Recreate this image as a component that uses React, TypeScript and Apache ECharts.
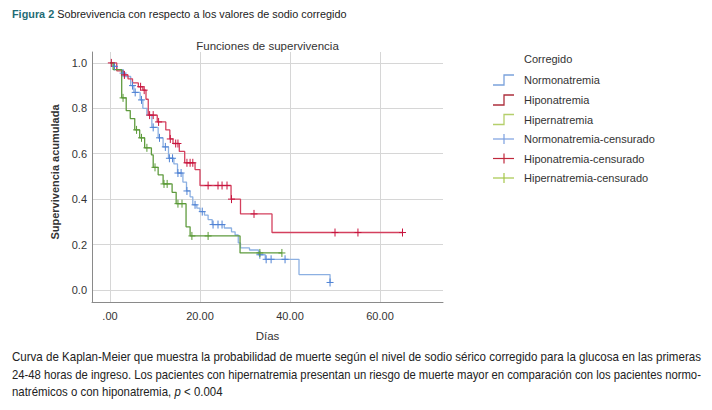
import { useEffect, useRef } from 'react';
import * as echarts from 'echarts';

// ---- data ----
const groups = ['Normonatremia', 'Hiponatremia', 'Hipernatremia'];
const censoredNames = ['Normonatremia-censurado', 'Hiponatremia-censurado', 'Hipernatremia-censurado'];
const legendTitle = 'Corregido';

const normoSteps: [number, number][] = [
  [0, 1], [0.7, 0.985], [1.5, 0.97], [2.7, 0.955], [3.3, 0.94], [4.6, 0.9], [5.3, 0.87], [6.7, 0.837],
  [7.3, 0.8], [8.2, 0.77], [9.3, 0.716], [10.7, 0.67], [11.8, 0.63], [13, 0.58], [14.2, 0.555],
  [15, 0.515], [16.2, 0.475], [17, 0.436], [17.8, 0.41], [18.4, 0.375], [19.3, 0.36], [20, 0.345],
  [21, 0.33], [21.8, 0.31], [22.7, 0.288], [25.4, 0.273], [27, 0.256], [27.8, 0.242], [28.5, 0.207],
  [29, 0.185], [31, 0.176], [33, 0.155], [34.5, 0.135], [42, 0.068], [48.9, 0.033],
];
const normoCensored: [number, number][] = [
  [1, 0.985], [2.9, 0.955], [5, 0.9], [5.6, 0.87], [7, 0.837], [9.6, 0.716], [11, 0.67], [12.3, 0.63],
  [13.2, 0.58], [13.9, 0.58], [15.1, 0.515], [15.8, 0.515], [17.1, 0.436], [18.9, 0.375], [20.5, 0.345],
  [22.9, 0.288], [24, 0.288], [24.9, 0.288], [33.3, 0.155], [34.7, 0.135], [35.8, 0.135], [38.9, 0.135],
  [48.9, 0.033],
];

const hipoSteps: [number, number][] = [
  [0, 1], [1.5, 0.965], [3, 0.947], [4, 0.93], [5, 0.912], [6.3, 0.895], [7.3, 0.88], [8, 0.84],
  [8.5, 0.77], [10.5, 0.74], [12.4, 0.705], [13.3, 0.665], [14, 0.645], [15.4, 0.61], [16.6, 0.56],
  [18.9, 0.53], [20, 0.46], [26.9, 0.4], [29, 0.335], [36, 0.253], [65, 0.253],
];
const hipoCensored: [number, number][] = [
  [0.3, 1], [3.2, 0.947], [6.8, 0.895], [7.6, 0.88], [8.8, 0.77], [9.6, 0.77], [10.8, 0.74],
  [13.4, 0.665], [14.6, 0.645], [15.1, 0.645], [17.1, 0.56], [17.8, 0.56], [18.4, 0.56],
  [21.8, 0.46], [24, 0.46], [24.9, 0.46], [26, 0.46], [27, 0.4], [32, 0.335], [50, 0.253],
  [55.1, 0.253], [65, 0.253],
];

const hiperSteps: [number, number][] = [
  [0, 1], [0.7, 0.97], [2.6, 0.846], [3.6, 0.79], [4.5, 0.755], [5.5, 0.705], [6.6, 0.67], [7.7, 0.626],
  [9.2, 0.595], [9.6, 0.54], [10.7, 0.507], [11.8, 0.467], [13.8, 0.43], [14.7, 0.38], [16.9, 0.278],
  [17.8, 0.238], [28.9, 0.163], [38.2, 0.163],
];
const hiperCensored: [number, number][] = [
  [2.9, 0.846], [5.9, 0.705], [7, 0.67], [8.2, 0.626], [10, 0.54], [12, 0.467], [12.7, 0.467],
  [15.1, 0.38], [16, 0.38], [18.2, 0.238], [21.8, 0.238], [33.3, 0.163], [38.2, 0.163],
];

const xTickValues = [0, 20, 40, 60];
const xTickLabels = ['.00', '20.00', '40.00', '60.00'];
const yTickValues = [0, 0.2, 0.4, 0.6, 0.8, 1.0];
const yTickLabels = ['0.0', '0.2', '0.4', '0.6', '0.8', '1.0'];

const headerBold = 'Figura 2';
const headerText = 'Sobrevivencia con respecto a los valores de sodio corregido';
const chartTitle = 'Funciones de supervivencia';
const xName = 'Días';
const yName = 'Supervivencia acumulada';
const captionLines = [
  'Curva de Kaplan-Meier que muestra la probabilidad de muerte según el nivel de sodio sérico corregido para la glucosa en las primeras',
  '24-48 horas de ingreso. Los pacientes con hipernatremia presentan un riesgo de muerte mayor en comparación con los pacientes normo-',
  'natrémicos o con hiponatremia, {i|p} < 0.004',
];

// ---- styles ----
const FONT = "'Liberation Sans', Arial, sans-serif";
const lineColors = ['#8cb0e2', '#d4405e', '#5f9b3e'];
const censorColors = ['#4f82d4', '#c8153e', '#5a9a36'];
const legendLineColors = ['#7ba2dc', '#ad2f3c', '#b5cf6b'];
const legendCensorColors = ['#7b9fe0', '#c0283c', '#a6c64a'];
const CAPTION_SIZE = 13;
const CAPTION_LEFT = 12;
const CAPTION_RIGHT = 702;

const lookup = (vals: number[], labels: string[]) => (v: number) => {
  const i = vals.findIndex((t) => Math.abs(t - v) < 1e-9);
  return i >= 0 ? labels[i] : '';
};

function measure(text: string, font: string): number {
  const c = document.createElement('canvas').getContext('2d');
  if (!c) return 0;
  c.font = font;
  return c.measureText(text).width;
}

export default function App() {
  const ref = useRef<HTMLDivElement>(null);
  useEffect(() => {
    if (!ref.current) return;
    const chart = echarts.init(ref.current, undefined, { renderer: 'svg' });
    const stepSets = [normoSteps, hipoSteps, hiperSteps];
    const censorSets = [normoCensored, hipoCensored, hiperCensored];

    const lineSeries = stepSets.map((d, i) => ({
      type: 'line',
      name: groups[i],
      data: d,
      step: 'end',
      symbol: 'none',
      lineStyle: { color: lineColors[i], width: 1.3 },
      z: 2 + i,
      silent: true,
    }));
    const censorSeries = censorSets.map((d, i) => ({
      type: 'custom',
      name: censoredNames[i],
      data: d,
      encode: { x: 0, y: 1 },
      z: 6 + i,
      silent: true,
      renderItem: (_p: any, api: any) => {
        const p = api.coord([api.value(0), api.value(1)]);
        const c = censorColors[i];
        return {
          type: 'group',
          children: [
            { type: 'line', shape: { x1: p[0] - 3.5, y1: p[1], x2: p[0] + 3.5, y2: p[1] }, style: { stroke: c, lineWidth: 1 } },
            { type: 'line', shape: { x1: p[0], y1: p[1] - 4, x2: p[0], y2: p[1] + 4 }, style: { stroke: c, lineWidth: 1 } },
          ],
        };
      },
    }));

    const legendX = 493;
    const legendYs = [80, 100, 119.5, 139, 158.5, 178];
    const legendGraphics: any[] = [
      { type: 'text', x: 524, y: 59, style: { text: legendTitle, font: `11px ${FONT}`, fill: '#333', textVerticalAlign: 'middle' } },
    ];
    groups.forEach((g, i) => {
      const y = legendYs[i];
      legendGraphics.push({
        type: 'polyline',
        shape: { points: [[legendX, y + 5], [legendX + 11, y + 5], [legendX + 11, y - 5], [legendX + 21, y - 5]] },
        style: { stroke: legendLineColors[i], lineWidth: 1.3, fill: 'none' },
      });
      legendGraphics.push({ type: 'text', x: 524, y, style: { text: g, font: `11px ${FONT}`, fill: '#333', textVerticalAlign: 'middle' } });
    });
    censoredNames.forEach((g, i) => {
      const y = legendYs[i + 3];
      legendGraphics.push({ type: 'line', shape: { x1: legendX, y1: y, x2: legendX + 21, y2: y }, style: { stroke: legendCensorColors[i], lineWidth: 1.2 } });
      legendGraphics.push({ type: 'line', shape: { x1: legendX + 11, y1: y - 5, x2: legendX + 11, y2: y + 5 }, style: { stroke: legendCensorColors[i], lineWidth: 1.2 } });
      legendGraphics.push({ type: 'text', x: 524, y, style: { text: g, font: `11px ${FONT}`, fill: '#333', textVerticalAlign: 'middle' } });
    });

    // condense the caption horizontally (narrow face look) so the full lines span the column
    const capFont = `${CAPTION_SIZE}px ${FONT}`;
    const w1 = measure(captionLines[0], capFont);
    const w2 = measure(captionLines[1], capFont);
    const target = CAPTION_RIGHT - CAPTION_LEFT;
    const s1 = w1 > 0 ? target / w1 : 0.86;
    const s2 = w2 > 0 ? target / w2 : 0.86;
    const scales = [s1, s2, (s1 + s2) / 2];
    const captionYs = [357, 375, 392];
    const captionGraphics = captionLines.map((t, i) => ({
      type: 'text',
      x: CAPTION_LEFT,
      y: captionYs[i],
      scaleX: scales[i],
      style: {
        text: t,
        font: capFont,
        fill: '#222',
        textVerticalAlign: 'middle',
        rich: { i: { fontStyle: 'italic', fontFamily: FONT, fontSize: CAPTION_SIZE, fill: '#222' } },
      },
    }));

    chart.setOption({
      animation: false,
      backgroundColor: '#fff',
      grid: { left: 92, top: 52, width: 351, height: 250, containLabel: false },
      xAxis: {
        type: 'value',
        min: -4,
        max: 74,
        name: xName,
        nameLocation: 'middle',
        nameGap: 28,
        nameTextStyle: { fontFamily: FONT, fontSize: 11.5, color: '#333' },
        axisLine: { show: true, onZero: false, lineStyle: { color: '#8a8a8a', width: 1 } },
        axisTick: { show: false, customValues: xTickValues },
        axisLabel: { customValues: xTickValues, formatter: lookup(xTickValues, xTickLabels), fontFamily: FONT, fontSize: 11, color: '#333', margin: 8 },
        splitLine: { show: true, lineStyle: { color: '#d6d6d6', width: 1 } },
      },
      yAxis: {
        type: 'value',
        min: -0.053,
        max: 1.048,
        axisLine: { show: true, onZero: false, lineStyle: { color: '#8a8a8a', width: 1 } },
        axisTick: { show: false, customValues: yTickValues },
        axisLabel: { customValues: yTickValues, formatter: lookup(yTickValues, yTickLabels), fontFamily: FONT, fontSize: 11, color: '#333', margin: 5 },
        splitLine: { show: true, lineStyle: { color: '#d6d6d6', width: 1 } },
      },
      series: [...lineSeries, ...censorSeries],
      graphic: [
        {
          type: 'text',
          x: 12,
          y: 14,
          style: {
            text: `{b|${headerBold}} ${headerText}`,
            font: `10.85px ${FONT}`,
            fill: '#222',
            textVerticalAlign: 'middle',
            rich: { b: { fontWeight: 'bold', fill: '#1f6b75', fontFamily: FONT, fontSize: 10.85 } },
          },
        },
        { type: 'text', x: 267.5, y: 46, style: { text: chartTitle, font: `11.5px ${FONT}`, fill: '#333', textAlign: 'center', textVerticalAlign: 'middle' } },
        { type: 'text', x: 55, y: 172, rotation: Math.PI / 2, style: { text: yName, font: `bold 11px ${FONT}`, fill: '#333', textAlign: 'center', textVerticalAlign: 'middle' } },
        ...legendGraphics,
        ...captionGraphics,
      ],
    });
    return () => chart.dispose();
  }, []);
  return <div ref={ref} style={{ position: 'fixed', left: 0, top: 0, width: 712, height: 410, background: '#fff' }} />;
}
